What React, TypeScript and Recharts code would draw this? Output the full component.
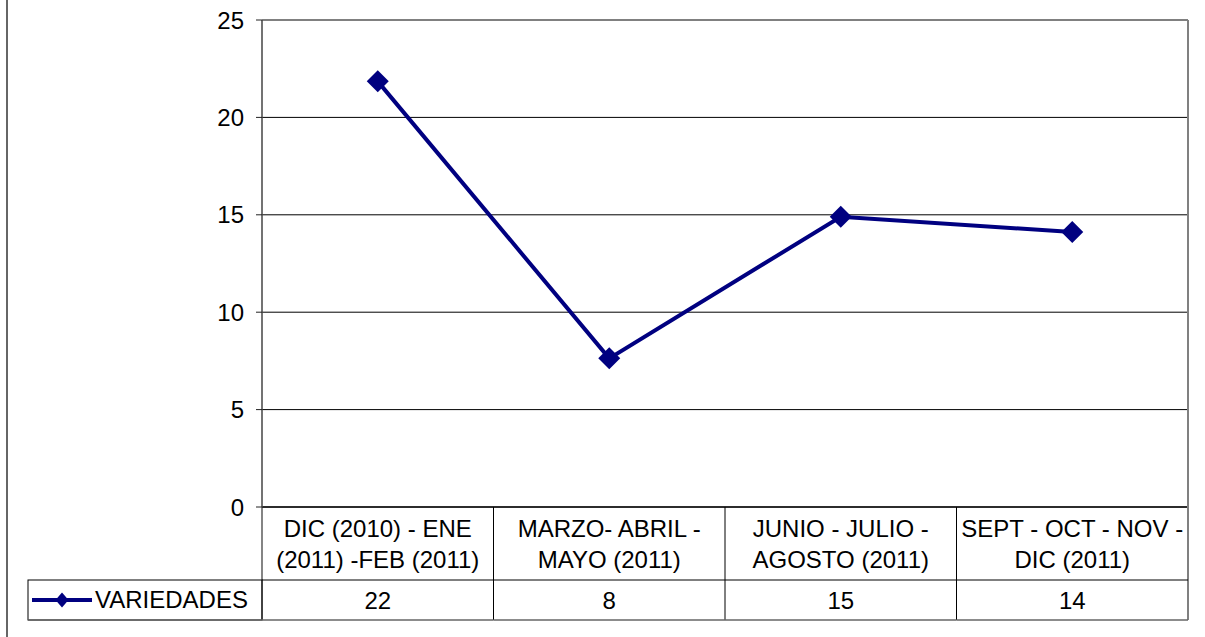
import React from 'react';
import { LineChart, Line, XAxis, YAxis, CartesianGrid, ReferenceLine } from 'recharts';

const categories: string[][] = [
  ['DIC (2010) - ENE', '(2011) -FEB (2011)'],
  ['MARZO- ABRIL -', 'MAYO (2011)'],
  ['JUNIO - JULIO -', 'AGOSTO (2011)'],
  ['SEPT - OCT - NOV -', 'DIC (2011)'],
];
const seriesName = 'VARIEDADES';
const variedades: number[] = [21.85, 7.63, 14.9, 14.12];
const tableLabels: string[] = ['22', '8', '15', '14'];
const yTicks: number[] = [0, 5, 10, 15, 20, 25];

const data = categories.map((c, i) => ({ name: c.join(' '), idx: i, value: variedades[i] }));

const W = 1205;
const H = 637;
const M_TOP = 20;
const M_RIGHT = 17;
const Y_W = 262;
const X_H = 130;
const PLOT_W = W - Y_W - M_RIGHT;
const PLOT_H = H - X_H - M_TOP;
const COL_W = PLOT_W / categories.length;
const ROW1 = 73;
const ROW2 = 113;
const NAVY = '#000080';
const FONT = "'Liberation Sans', Arial, sans-serif";
const FS = 24;

const Diamond = (props: any) => {
  const { cx, cy } = props;
  if (cx == null || cy == null) return null;
  const r = 11;
  return <polygon points={`${cx},${cy - r} ${cx + r},${cy} ${cx},${cy + r} ${cx - r},${cy}`} fill={NAVY} />;
};

const TableTick = (props: any) => {
  const { x, y, payload, index } = props;
  const i = payload?.index ?? index;
  const lines = categories[i] || [];
  const left = x - COL_W / 2;
  const right = x + COL_W / 2;
  const last = i === categories.length - 1;
  return (
    <g>
      {i === 0 && (
        <g>
          <line x1={7} x2={7} y1={y - PLOT_H - M_TOP} y2={y + X_H} stroke="#333" strokeWidth={1.5} />
          <line x1={left} x2={left} y1={y} y2={y + ROW2} stroke="#333" strokeWidth={1.2} />
          <rect x={28} y={y + ROW1} width={left - 28} height={ROW2 - ROW1} fill="none" stroke="#000" strokeWidth={1} />
          <line x1={32} x2={92} y1={y + ROW1 + 20} y2={y + ROW1 + 20} stroke={NAVY} strokeWidth={4} />
          <polygon
            points={`62,${y + ROW1 + 12.5} 68.5,${y + ROW1 + 20} 62,${y + ROW1 + 27.5} 55.5,${y + ROW1 + 20}`}
            fill={NAVY}
          />
          <text x={95} y={y + 101} fontSize={FS} fontFamily={FONT} fill="#000">
            {seriesName}
          </text>
        </g>
      )}
      <line x1={right} x2={right} y1={y} y2={y + ROW2} stroke={last ? '#808080' : '#000'} strokeWidth={last ? 2 : 1} />
      <line x1={left} x2={right} y1={y + ROW1} y2={y + ROW1} stroke="#000" strokeWidth={1} />
      <line x1={i === 0 ? 28 : left} x2={right} y1={y + ROW2} y2={y + ROW2} stroke="#666" strokeWidth={1.5} />
      {last && <line x1={right} x2={right} y1={y - PLOT_H} y2={y} stroke="#808080" strokeWidth={2} />}
      <text textAnchor="middle" fontSize={FS} fontFamily={FONT} fill="#000">
        <tspan x={x} y={y + 30}>{lines[0]}</tspan>
        <tspan x={x} y={y + 61}>{lines[1]}</tspan>
      </text>
      <text x={x} y={y + 102} textAnchor="middle" fontSize={FS} fontFamily={FONT} fill="#000">
        {tableLabels[i]}
      </text>
    </g>
  );
};

export default function App() {
  return (
    <div style={{ position: 'absolute', left: 0, top: 0, width: W, height: H, background: '#fff' }}>
      <LineChart width={W} height={H} data={data} margin={{ top: M_TOP, right: M_RIGHT, bottom: 0, left: 0 }}>
        <CartesianGrid horizontal vertical={false} stroke="#000" strokeWidth={1} />
        <XAxis
          dataKey="name"
          height={X_H}
          interval={0}
          padding={{ left: COL_W / 2, right: COL_W / 2 }}
          tickLine={false}
          tickSize={0}
          tickMargin={0}
          axisLine={{ stroke: '#111', strokeWidth: 1.5 }}
          tick={<TableTick />}
        />
        <YAxis
          width={Y_W}
          domain={[0, 25]}
          ticks={yTicks}
          interval={0}
          tickSize={6}
          tickMargin={12}
          axisLine={{ stroke: '#444', strokeWidth: 1.5 }}
          tickLine={{ stroke: '#222' }}
          tick={{ fontSize: FS, fontFamily: FONT, fill: '#000' }}
        />
        <ReferenceLine y={25} stroke="#808080" strokeWidth={2} />
        <Line
          type="linear"
          dataKey="value"
          stroke={NAVY}
          strokeWidth={4}
          dot={<Diamond />}
          activeDot={false}
          isAnimationActive={false}
        />
      </LineChart>
    </div>
  );
}
